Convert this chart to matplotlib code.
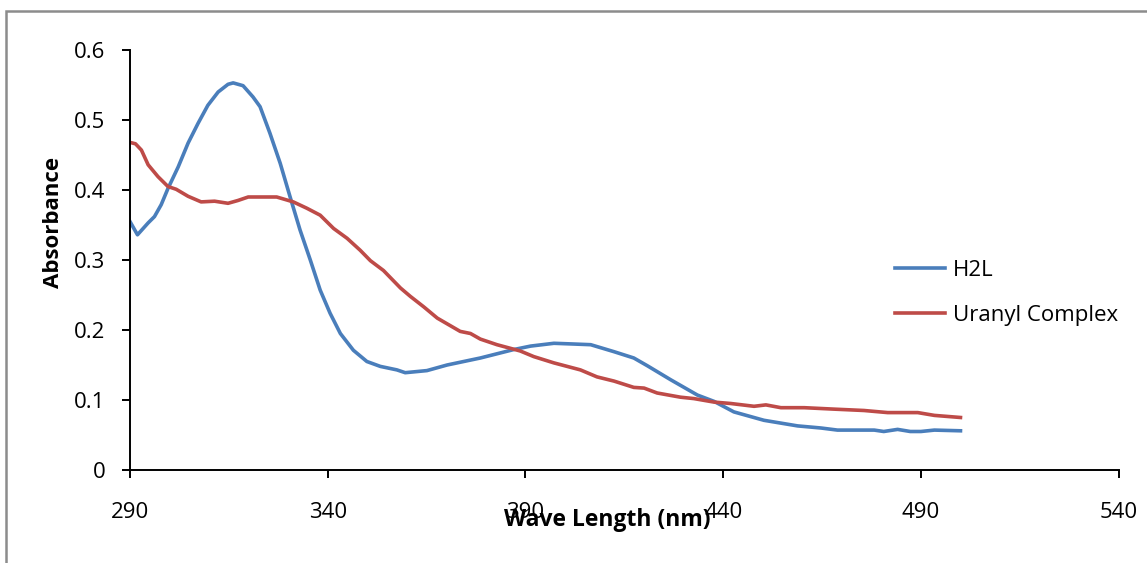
import matplotlib.pyplot as plt
from matplotlib.patches import Rectangle

# wavelength (nm) / absorbance
h2l_nm = [290, 290.3, 291.9, 294.6, 296.2, 297.9, 299.6, 302.2, 304.7, 307.2, 309.7,
          312.3, 314.8, 316.1, 318.6, 321.1, 322.9, 325.4, 328, 330.5, 333,
          335.6, 338.1, 340.6, 343.2, 346.5, 349.9, 353.3, 357.5, 359.6, 365.1,
          370.2, 378.6, 387, 391.3, 397.2, 402, 406.5, 412.4, 417.4, 420.8,
          426.7, 433.5, 437.7, 442.7, 450.3, 458.8, 464.7, 468.9, 478.2, 480.6,
          484.1, 487.3, 490, 493.4, 500]
h2l_abs = [0.355, 0.352, 0.336, 0.353, 0.362, 0.379, 0.402, 0.433, 0.467, 0.495, 0.521,
           0.540, 0.551, 0.553, 0.549, 0.533, 0.519, 0.481, 0.438, 0.390, 0.343,
           0.300, 0.257, 0.224, 0.195, 0.171, 0.155, 0.148, 0.143, 0.139, 0.142,
           0.150, 0.160, 0.172, 0.177, 0.181, 0.180, 0.179, 0.169, 0.160, 0.149,
           0.129, 0.107, 0.098, 0.083, 0.071, 0.063, 0.060, 0.057, 0.057, 0.055,
           0.058, 0.055, 0.055, 0.057, 0.056]

ur_nm = [290, 291.4, 292.9, 294.6, 297.1, 299.6, 301.7, 304.7, 308, 311.4, 314.8,
         317.3, 319.9, 322.9, 327.1, 331.3, 334.7, 338.1, 341.5, 344.9, 348.2,
         350.8, 354.1, 358.4, 360.9, 364.3, 367.7, 373.5, 376.1, 378.6, 382.8,
         388.7, 392.1, 397.2, 403.9, 408.1, 412.4, 417.4, 420, 423.3, 429.2,
         432.6, 437.7, 441.9, 447.8, 450.8, 454.6, 460.5, 467.8, 475.6, 481.6,
         489.2, 493.4, 500]
ur_abs = [0.468, 0.466, 0.457, 0.436, 0.419, 0.405, 0.401, 0.391, 0.383, 0.384, 0.381,
          0.385, 0.390, 0.390, 0.390, 0.383, 0.374, 0.364, 0.345, 0.331, 0.314,
          0.299, 0.285, 0.260, 0.248, 0.233, 0.217, 0.198, 0.195, 0.187, 0.179,
          0.170, 0.162, 0.153, 0.143, 0.133, 0.127, 0.118, 0.117, 0.110, 0.104,
          0.102, 0.097, 0.095, 0.091, 0.093, 0.089, 0.089, 0.087, 0.085, 0.082,
          0.082, 0.078, 0.075]

x_ticks = [290, 340, 390, 440, 490, 540]
y_ticks = [0, 0.1, 0.2, 0.3, 0.4, 0.5, 0.6]
y_labels = ["0", "0.1", "0.2", "0.3", "0.4", "0.5", "0.6"]

plt.rcParams["font.family"] = ["Open Sans", "DejaVu Sans"]

fig = plt.figure(figsize=(11.47, 5.63), dpi=100)
ax = fig.add_axes([0.1133, 0.1652, 0.862, 0.746])

ax.plot(h2l_nm, h2l_abs, color="#4a7ebb", linewidth=2.6, label="H2L")
ax.plot(ur_nm, ur_abs, color="#be4b48", linewidth=2.6, label="Uranyl Complex")

ax.set_xlim(290, 540)
ax.set_ylim(0, 0.6)
ax.set_xticks(x_ticks)
ax.set_yticks(y_ticks)
ax.set_yticklabels(y_labels)
for side in ("top", "right"):
    ax.spines[side].set_visible(False)
for side in ("left", "bottom"):
    ax.spines[side].set_linewidth(1.4)
ax.tick_params(direction="out", length=5.8, width=1.4, labelsize=16)
ax.tick_params(axis="x", pad=17)
ax.tick_params(axis="y", pad=12)

fig.text(0.529, 0.0764, "Wave Length (nm)", fontsize=16.5, fontweight="bold",
         ha="center", va="center")
fig.text(0.047, 0.605, "Absorbance", fontsize=16, fontweight="bold",
         rotation=90, ha="center", va="center")

ax.legend(loc="center left", bbox_to_anchor=(0.7535, 0.422), frameon=False,
          fontsize=16, handlelength=2.25, handletextpad=0.36, labelspacing=1.09)

fig.patches.append(Rectangle((6 / 1147, -0.05), 1.2, 1 - 11 / 563 + 0.05,
                             transform=fig.transFigure, fill=False,
                             edgecolor="#8c8c8c", linewidth=1.8))

fig.savefig("out.png", dpi=100)
